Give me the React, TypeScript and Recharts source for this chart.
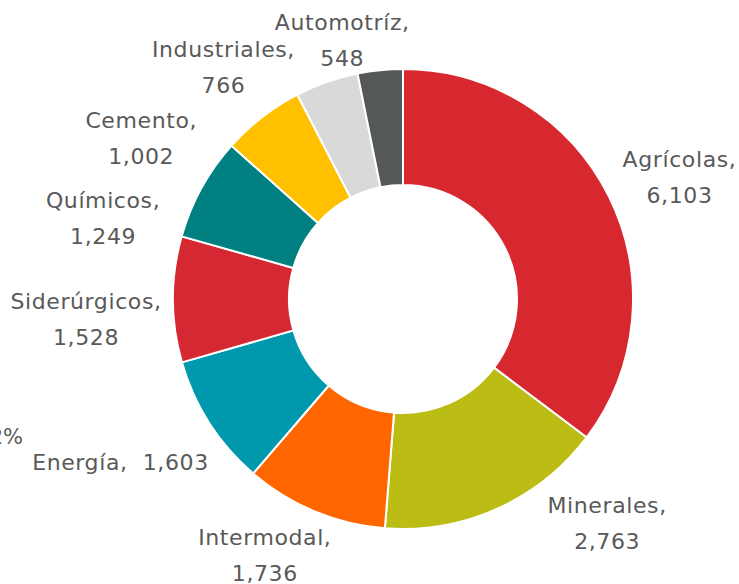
import React from 'react';
import { PieChart, Pie, Cell } from 'recharts';

const categories = ['Agrícolas', 'Minerales', 'Intermodal', 'Energía', 'Siderúrgicos', 'Químicos', 'Cemento', 'Industriales', 'Automotríz'];
const values = [6103, 2763, 1736, 1603, 1528, 1249, 1002, 766, 548];
const colors = ['#D7282F', '#BBBD15', '#FF6600', '#0098AD', '#D52832', '#008080', '#FFC000', '#D9D9D9', '#545859'];

const data = categories.map((name, i) => ({ name, value: values[i] }));

const RADIAN = Math.PI / 180;
const LABEL_COLOR = '#595959';
const FONT = '"DejaVu Sans", sans-serif';

// excel "best fit" labels don't sit on the mid angle, nudge them a bit
const NUDGE: { [key: string]: [number, number] } = {
    'Agrícolas': [8, 12],
    'Minerales': [81, -49],
    'Intermodal': [-23, -21],
    'Energía': [-30, 2],
    'Siderúrgicos': [-17, 20],
    'Químicos': [-37, 64],
    'Cemento': [-78, 77],
    'Industriales': [-80, 52],
    'Automotríz': [-31, 40],
};

const renderLabel = (props: any) => {
    const { cx, cy, midAngle, outerRadius, name, value } = props;
    const r = outerRadius + 70;
    const [dx, dy] = NUDGE[name] || [0, 0];
    const x = cx + r * Math.cos(-midAngle * RADIAN) + dx;
    const y = cy + r * Math.sin(-midAngle * RADIAN) + dy;
    const num = value.toLocaleString('en-US');
    const style = { fontFamily: FONT, fontSize: 22, fill: LABEL_COLOR, letterSpacing: 0.6 };
    if (name === 'Energía') {
        return (
            <text x={x} y={y} textAnchor="middle" dominantBaseline="central" style={style}>
                {`${name},\u00a0\u00a0${num}`}
            </text>
        );
    }
    return (
        <text x={x} y={y} textAnchor="middle" style={style}>
            <tspan x={x} dy={-18} dominantBaseline="central">{`${name},`}</tspan>
            <tspan x={x} dy={36} dominantBaseline="central">{num}</tspan>
        </text>
    );
};

export default function App() {
    return (
        <div style={{ position: 'relative', width: 739, height: 584, overflow: 'hidden', background: '#fff' }}>
            <style>{'body { margin: 0; }'}</style>
            <PieChart width={739} height={584} margin={{ top: 0, right: 0, bottom: 0, left: 0 }}>
                <Pie
                    data={data}
                    dataKey="value"
                    nameKey="name"
                    cx={403}
                    cy={299}
                    innerRadius={114}
                    outerRadius={230}
                    startAngle={90}
                    endAngle={-270}
                    stroke="#fff"
                    strokeWidth={2}
                    label={renderLabel}
                    labelLine={false}
                    isAnimationActive={false}
                >
                    {data.map((entry, index) => (
                        <Cell key={`cell-${index}`} fill={colors[index]} />
                    ))}
                </Pie>
            </PieChart>
            {/* piece of a neighbouring label cut off by the crop */}
            <div style={{ position: 'absolute', right: 716, top: 423, fontFamily: FONT, fontSize: 21, color: LABEL_COLOR, whiteSpace: 'nowrap', lineHeight: '28px' }}>
                2%
            </div>
        </div>
    );
}
